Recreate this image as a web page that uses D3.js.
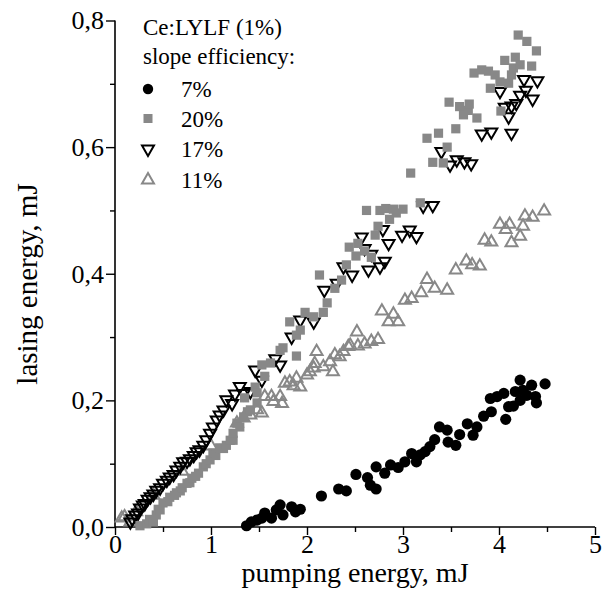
<!DOCTYPE html>
<html>
<head>
<meta charset="utf-8">
<script src="https://cdn.jsdelivr.net/npm/d3@7"></script>
<style>
  body { margin: 0; background: #fff; }
  text { font-family: "Liberation Serif", "Times New Roman", serif; fill: #000; }
</style>
</head>
<body>
<script>
// pumping energy (mJ), lasing energy (mJ)
const eff7 = [
  [1.37,0.002],[1.42,0.008],[1.48,0.011],[1.53,0.014],[1.56,0.022],[1.63,0.014],[1.68,0.027],
  [1.72,0.035],[1.75,0.019],[1.84,0.032],[1.88,0.024],[1.93,0.028],[2.15,0.049],[2.33,0.060],
  [2.41,0.057],[2.51,0.083],[2.63,0.078],[2.66,0.066],[2.72,0.060],[2.72,0.095],[2.81,0.085],
  [2.87,0.098],[2.95,0.094],[3.02,0.103],[3.09,0.116],[3.14,0.103],[3.18,0.114],[3.23,0.119],
  [3.28,0.127],[3.33,0.138],[3.38,0.158],[3.46,0.153],[3.47,0.134],[3.55,0.129],[3.59,0.146],
  [3.67,0.163],[3.73,0.145],[3.77,0.158],[3.84,0.175],[3.91,0.203],[3.92,0.182],[3.98,0.206],
  [4.05,0.211],[4.07,0.170],[4.10,0.190],[4.15,0.191],[4.17,0.214],[4.22,0.232],[4.22,0.200],
  [4.25,0.216],[4.29,0.208],[4.34,0.224],[4.38,0.206],[4.39,0.196],[4.48,0.226]
];
const eff20 = [
  [0.26,0.002],[0.33,0.005],[0.36,0.012],[0.40,0.008],[0.43,0.019],[0.45,0.028],[0.47,0.027],
  [0.50,0.038],[0.55,0.040],[0.57,0.047],[0.62,0.050],[0.64,0.054],[0.68,0.057],[0.70,0.062],
  [0.75,0.069],[0.78,0.070],[0.80,0.077],[0.84,0.080],[0.87,0.085],[0.92,0.095],[0.95,0.100],
  [0.99,0.106],[1.02,0.117],[1.05,0.113],[1.09,0.125],[1.13,0.124],[1.16,0.129],[1.20,0.137],
  [1.23,0.137],[1.23,0.148],[1.27,0.164],[1.30,0.158],[1.34,0.174],[1.35,0.204],[1.38,0.182],
  [1.41,0.185],[1.46,0.221],[1.48,0.196],[1.48,0.212],[1.53,0.256],[1.56,0.238],
  [1.62,0.259],[1.72,0.279],[1.75,0.283],[1.82,0.324],[1.89,0.303],[1.89,0.270],[1.93,0.311],
  [1.98,0.339],[2.07,0.332],[2.13,0.398],[2.17,0.339],[2.21,0.354],[2.29,0.377],[2.36,0.390],
  [2.41,0.414],[2.44,0.442],[2.51,0.428],[2.53,0.448],[2.60,0.436],[2.67,0.426],[2.71,0.461],
  [2.74,0.475],[2.62,0.500],[2.76,0.500],[2.82,0.503],[2.86,0.486],[2.90,0.502],[2.93,0.496],
  [3.00,0.502],[3.08,0.559],[3.18,0.512],[3.25,0.614],[3.31,0.576],[3.37,0.622],[3.42,0.575],
  [3.46,0.600],[3.48,0.671],[3.55,0.629],[3.59,0.664],[3.63,0.651],[3.68,0.658],[3.69,0.668],
  [3.77,0.646],[3.74,0.717],[3.82,0.722],[3.89,0.720],[3.91,0.693],[3.96,0.714],[4.01,0.703],
  [4.02,0.657],[4.06,0.737],[4.10,0.701],[4.13,0.714],[4.15,0.725],[4.17,0.742],[4.20,0.777],
  [4.22,0.730],[4.29,0.767],[4.34,0.728],[4.39,0.752]
];
const eff17 = [
  [0.16,0.008],[0.18,0.013],[0.21,0.019],[0.24,0.022],[0.26,0.030],[0.29,0.035],[0.31,0.037],
  [0.34,0.044],[0.37,0.048],[0.40,0.052],[0.43,0.058],[0.47,0.062],[0.50,0.069],[0.54,0.074],
  [0.57,0.079],[0.61,0.083],[0.64,0.090],[0.68,0.096],[0.71,0.103],[0.75,0.104],[0.78,0.108],
  [0.82,0.113],[0.85,0.119],[0.88,0.122],[0.92,0.129],[0.95,0.138],[0.99,0.148],[1.02,0.158],
  [1.06,0.169],[1.09,0.177],[1.13,0.185],[1.16,0.201],[1.22,0.195],[1.25,0.210],[1.30,0.222],
  [1.34,0.211],[1.41,0.214],[1.46,0.248],[1.53,0.232],[1.67,0.266],[1.72,0.256],[1.84,0.300],
  [1.93,0.327],[2.07,0.324],[2.18,0.374],[2.31,0.385],[2.38,0.411],[2.47,0.398],[2.57,0.458],
  [2.60,0.440],[2.64,0.406],[2.67,0.431],[2.76,0.411],[2.79,0.470],[2.81,0.420],[2.85,0.448],
  [2.99,0.461],[3.07,0.469],[3.14,0.459],[3.21,0.507],[3.31,0.508],[3.40,0.593],[3.49,0.572],
  [3.56,0.580],[3.64,0.577],[3.71,0.574],[3.82,0.621],[3.92,0.624],[4.13,0.622],[4.01,0.688],
  [4.06,0.663],[4.10,0.648],[4.13,0.665],[4.18,0.669],[4.22,0.682],[4.26,0.707],[4.28,0.690],
  [4.35,0.676],[4.40,0.705]
];
const eff11 = [
  [0.07,0.014],[0.10,0.016],[0.16,0.008],[0.22,0.024],[0.40,0.050],[0.70,0.088],[1.00,0.128],
  [1.27,0.164],[1.34,0.172],[1.41,0.177],[1.48,0.185],[1.53,0.180],[1.56,0.206],[1.63,0.206],
  [1.65,0.198],[1.72,0.206],[1.74,0.195],[1.77,0.227],[1.82,0.229],[1.86,0.223],[1.89,0.235],
  [1.93,0.221],[2.00,0.240],[2.03,0.245],[2.07,0.251],[2.08,0.258],[2.10,0.277],[2.17,0.253],
  [2.24,0.261],[2.27,0.245],[2.29,0.272],[2.34,0.269],[2.38,0.277],[2.43,0.285],[2.45,0.287],
  [2.53,0.286],[2.60,0.289],[2.67,0.293],[2.74,0.296],[2.52,0.308],[2.78,0.341],[2.90,0.336],
  [2.85,0.324],[2.95,0.324],[3.02,0.358],[3.09,0.361],[3.19,0.370],[3.25,0.391],[3.33,0.377],
  [3.46,0.374],[3.55,0.406],[3.66,0.420],[3.72,0.414],[3.80,0.412],[3.85,0.453],[3.92,0.450],
  [4.01,0.478],[4.07,0.470],[4.11,0.478],[4.13,0.449],[4.22,0.459],[4.25,0.475],[4.27,0.491],
  [4.35,0.489],[4.47,0.499]
];

const xTicks = [0, 1, 2, 3, 4, 5];
const xMinor = [0.5, 1.5, 2.5, 3.5, 4.5];
const yTicks = [0, 0.2, 0.4, 0.6, 0.8];
const yMinor = [0.1, 0.3, 0.5, 0.7];
const legendLabels = ['7%', '20%', '17%', '11%'];

const W = 611, H = 606;
const serif = '"Liberation Serif", "Times New Roman", serif';
const svg = d3.select('body').append('svg')
  .attr('width', W).attr('height', H);

const x = d3.scaleLinear().domain([0, 5]).range([115, 595]);
const y = d3.scaleLinear().domain([0, 0.8]).range([527, 20.5]);

const fmt = d => d3.format('.1f')(d).replace('.', ',');

// axes
const xAxis = svg.append('g').attr('transform', `translate(0,${y(0)})`)
  .call(d3.axisBottom(x).tickValues(xTicks).tickSize(8).tickPadding(0).tickFormat(d3.format('d')));
svg.append('g').attr('transform', `translate(0,${y(0)})`)
  .call(d3.axisBottom(x).tickValues(xMinor).tickSize(5).tickFormat(''))
  .call(g => g.select('.domain').remove());
const yAxis = svg.append('g').attr('transform', `translate(${x(0)},0)`)
  .call(d3.axisLeft(y).tickValues(yTicks).tickSize(9).tickPadding(2).tickFormat(fmt));
svg.append('g').attr('transform', `translate(${x(0)},0)`)
  .call(d3.axisLeft(y).tickValues(yMinor).tickSize(5).tickFormat(''))
  .call(g => g.select('.domain').remove());

svg.selectAll('g').attr('font-family', serif);
svg.selectAll('.domain').attr('stroke-width', 1.6);
xAxis.select('.domain').attr('d', `M${x(0)},0H${x(5)}`);
yAxis.select('.domain').attr('d', `M0,${y(0.8)}V${y(0)}`);
svg.selectAll('.tick line').attr('stroke-width', 1.4);
svg.selectAll('.tick text').attr('font-size', 26).style('font-family', serif);

// axis titles
svg.append('text')
  .attr('x', (x(0) + x(5)) / 2).attr('y', 582)
  .attr('text-anchor', 'middle')
  .style('font-size', '28px')
  .text('pumping energy, mJ');
svg.append('text')
  .attr('transform', `translate(37,${284}) rotate(-90)`)
  .attr('text-anchor', 'middle')
  .style('font-size', '29px')
  .text('lasing energy, mJ');

// markers
const tri = d3.symbol().type(d3.symbolTriangle).size(62);
const grey = '#888888';

function drawSeries(data, kind) {
  const g = svg.append('g');
  const sel = g.selectAll('.m').data(data).join(kind === 'circle' ? 'circle' : (kind === 'square' ? 'rect' : 'path'));
  if (kind === 'circle') {
    sel.attr('cx', d => x(d[0])).attr('cy', d => y(d[1])).attr('r', 5.6).attr('fill', '#000');
  } else if (kind === 'square') {
    sel.attr('x', d => x(d[0]) - 4.6).attr('y', d => y(d[1]) - 4.6)
      .attr('width', 9.2).attr('height', 9.2).attr('fill', grey);
  } else {
    const down = kind === 'down';
    sel.attr('d', tri)
      .attr('transform', d => `translate(${x(d[0])},${y(d[1])})${down ? ' rotate(180)' : ''}`)
      .attr('fill', 'none')
      .attr('stroke', down ? '#000' : grey)
      .attr('stroke-width', 2);
  }
}

drawSeries(eff7, 'circle');
drawSeries(eff11, 'up');
drawSeries(eff17, 'down');
drawSeries(eff20, 'square');

// legend
svg.append('text').attr('x', 143).attr('y', 35).style('font-size', '23px').text('Ce:LYLF (1%)');
svg.append('text').attr('x', 143).attr('y', 64).style('font-size', '23px').text('slope efficiency:');
const rows = [89, 118.5, 149, 180];
const kinds = ['circle', 'square', 'down', 'up'];
const lg = svg.append('g');
rows.forEach((ry, i) => {
  const k = kinds[i];
  if (k === 'circle') lg.append('circle').attr('cx', 148).attr('cy', ry).attr('r', 5.2).attr('fill', '#000');
  else if (k === 'square') lg.append('rect').attr('x', 143.5).attr('y', ry - 4.5).attr('width', 9).attr('height', 9).attr('fill', grey);
  else lg.append('path').attr('d', tri)
    .attr('transform', `translate(148,${ry})${k === 'down' ? ' rotate(180)' : ''}`)
    .attr('fill', 'none').attr('stroke', k === 'down' ? '#000' : grey).attr('stroke-width', 2);
  lg.append('text').attr('x', 181).attr('y', ry + 8).style('font-size', '23px').text(legendLabels[i]);
});
</script>
</body>
</html>
